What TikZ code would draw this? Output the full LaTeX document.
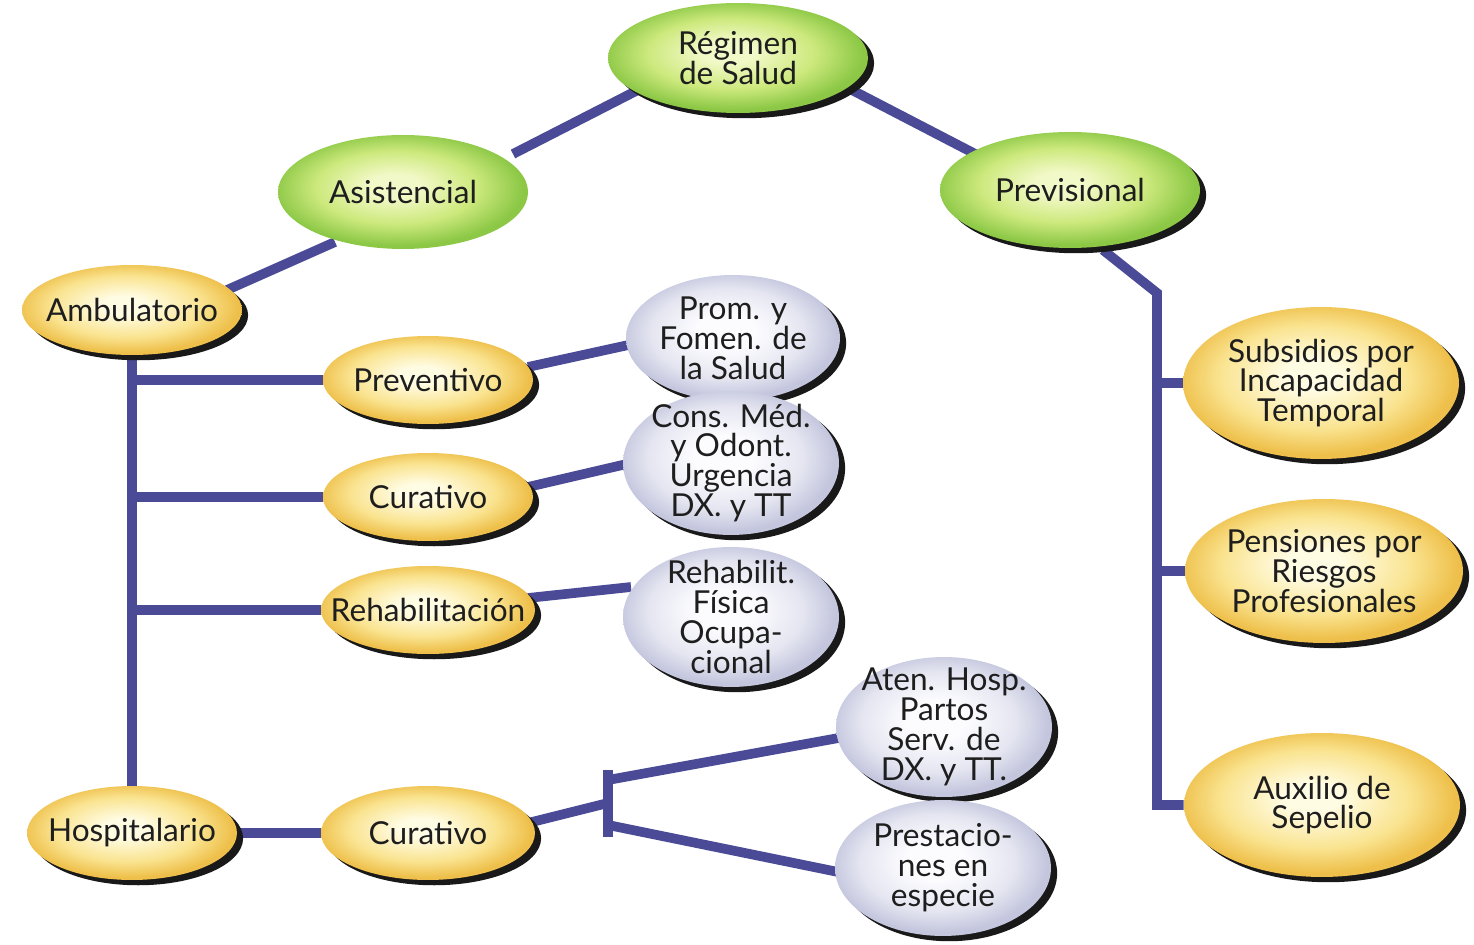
\documentclass[tikz,border=0pt]{standalone}
\usepackage{fontspec}
\setmainfont{Lato}
\usetikzlibrary{shapes.geometric,shadows,backgrounds,calc}
\definecolor{lnk}{RGB}{74,74,150}
\definecolor{txt}{RGB}{30,30,30}
\definecolor{gin}{RGB}{242,249,200}
\definecolor{gmid}{RGB}{205,233,125}
\definecolor{gout}{RGB}{140,200,70}
\definecolor{yin}{RGB}{255,252,228}
\definecolor{ymid}{RGB}{250,228,145}
\definecolor{yout}{RGB}{238,192,75}
\definecolor{lin}{RGB}{252,252,255}
\definecolor{lmid}{RGB}{228,229,240}
\definecolor{lout}{RGB}{196,198,222}
\definecolor{shd}{RGB}{25,25,25}
\pgfdeclareradialshading{gshade}{\pgfpoint{-2bp}{3bp}}{color(0bp)=(gin); color(5bp)=(gin); color(16bp)=(gmid); color(25bp)=(gout); color(50bp)=(gout)}
\pgfdeclareradialshading{yshade}{\pgfpoint{-2bp}{3bp}}{color(0bp)=(yin); color(5bp)=(yin); color(17bp)=(ymid); color(25bp)=(yout); color(50bp)=(yout)}
\pgfdeclareradialshading{lshade}{\pgfpoint{-2bp}{3bp}}{color(0bp)=(lin); color(7bp)=(lin); color(18bp)=(lmid); color(25bp)=(lout); color(50bp)=(lout)}
\tikzset{
  sz/.style 2 args={minimum width={#1*0.04cm}, minimum height={#2*0.04cm}},
  ell/.style={ellipse, inner sep=0pt, draw=none},
  shad/.style={general shadow={fill=shd, shadow xshift=3.5pt, shadow yshift=-3pt}},
  gell/.style={ell, shading=gshade, shade},
  yell/.style={ell, shad, shading=yshade, shade},
  lell/.style={ell, shad, shading=lshade, shade},
  lbl/.style={align=center, font=\fontsize{18}{17}\selectfont, text=txt, inner sep=0pt},
  conn/.style={draw=lnk, line width=5.5pt}
}
\begin{document}
\begin{tikzpicture}[x=0.02cm, y=-0.02cm]
\useasboundingbox (0,0) rectangle (1474,945);

\node[gell, shad, sz={130}{55}, label={[lbl]center:{Régimen\\de Salud}}] (reg) at (738,58) {};
\node[gell, sz={125}{57}, label={[lbl]center:Asistencial}] (asi) at (403,192) {};
\node[gell, shad, sz={130}{58}, label={[lbl]center:Previsional}] (prev) at (1070,190) {};

\node[yell, sz={110}{45}, label={[lbl]center:Ambulatorio}] (amb) at (132,310) {};
\node[yell, sz={105}{44}, label={[lbl]center:Preventivo}] (prv) at (428,380) {};
\node[yell, sz={105}{44}, label={[lbl]center:Curativo}] (cu1) at (428,497) {};
\node[yell, sz={107}{44}, label={[lbl]center:Rehabilitación}] (reh) at (428,610) {};
\node[yell, sz={105}{47}, label={[lbl]center:Hospitalario}] (hos) at (132,833) {};
\node[yell, sz={107}{47}, label={[lbl]center:Curativo}] (cu2) at (428,833) {};

\node[lell, sz={107}{63}, label={[lbl]center:{Prom. y\\Fomen. de\\la Salud}}] (prom) at (733,338) {};
\node[lell, sz={108}{72}, label={[lbl]center:{Cons. Méd.\\y Odont.\\Urgencia\\DX. y TT}}] (cons) at (731,463) {};
\node[lell, sz={108}{70}, label={[lbl]center:{Rehabilit.\\Física\\Ocupa-\\cional}}] (rhb) at (731,617) {};
\node[lell, sz={108}{70}, label={[lbl]center:{Aten. Hosp.\\Partos\\Serv. de\\DX. y TT.}}] (aten) at (944,727) {};
\node[lell, sz={108}{68}, label={[lbl]center:{Prestacio-\\nes en\\especie}}] (pres) at (943,868) {};

\node[yell, sz={138}{76}, label={[lbl]center:{Subsidios por\\Incapacidad\\Temporal}}] (sub) at (1321,383) {};
\node[yell, sz={139}{72}, label={[lbl]center:{Pensiones por\\Riesgos\\Profesionales}}] (pen) at (1324,571) {};
\node[yell, sz={138}{72}, label={[lbl]center:{Auxilio de\\Sepelio}}] (aux) at (1322,805) {};

\coordinate (pv) at (1157,293);
\coordinate (tb) at (608,803);

\begin{pgfonlayer}{background}
\fill[white] (0,0) rectangle (1474,945);
\draw[conn] ($(reg)+(-100,32)$) -- ($(asi)+(110,-38)$);
\draw[conn] ($(reg)+(110,30)$) -- ($(prev)+(-87,-32)$);
\draw[conn] ($(asi)+(-68,50)$) -- ($(amb)+(95,-20)$);
\draw[conn] ($(prev)+(33,60)$) -- (pv) |- (aux);
\draw[conn] (pv |- sub) -- (sub);
\draw[conn] (pv |- pen) -- (pen);
\draw[conn] (amb) -- (hos);
\draw[conn] (amb |- prv) -- (prv);
\draw[conn] (amb |- cu1) -- (cu1);
\draw[conn] (amb |- reh) -- (reh);
\draw[conn] (hos) -- (cu2);
\draw[conn] ($(cu2)+(100,-10)$) -- (tb);
\draw[conn] ($(tb)+(0,-33)$) -- ($(tb)+(0,34)$);
\draw[conn] ($(tb)+(0,-23)$) -- ($(aten)+(-100,10)$);
\draw[conn] ($(tb)+(0,22)$) -- ($(pres)+(-100,5)$);
\draw[conn] ($(prv)+(100,-13)$) -- ($(prom)+(-100,6)$);
\draw[conn] ($(cu1)+(100,-10)$) -- ($(cons)+(-100,0)$);
\draw[conn] ($(reh)+(100,-12)$) -- ($(rhb)+(-100,-30)$);
\end{pgfonlayer}
\end{tikzpicture}
\end{document}
